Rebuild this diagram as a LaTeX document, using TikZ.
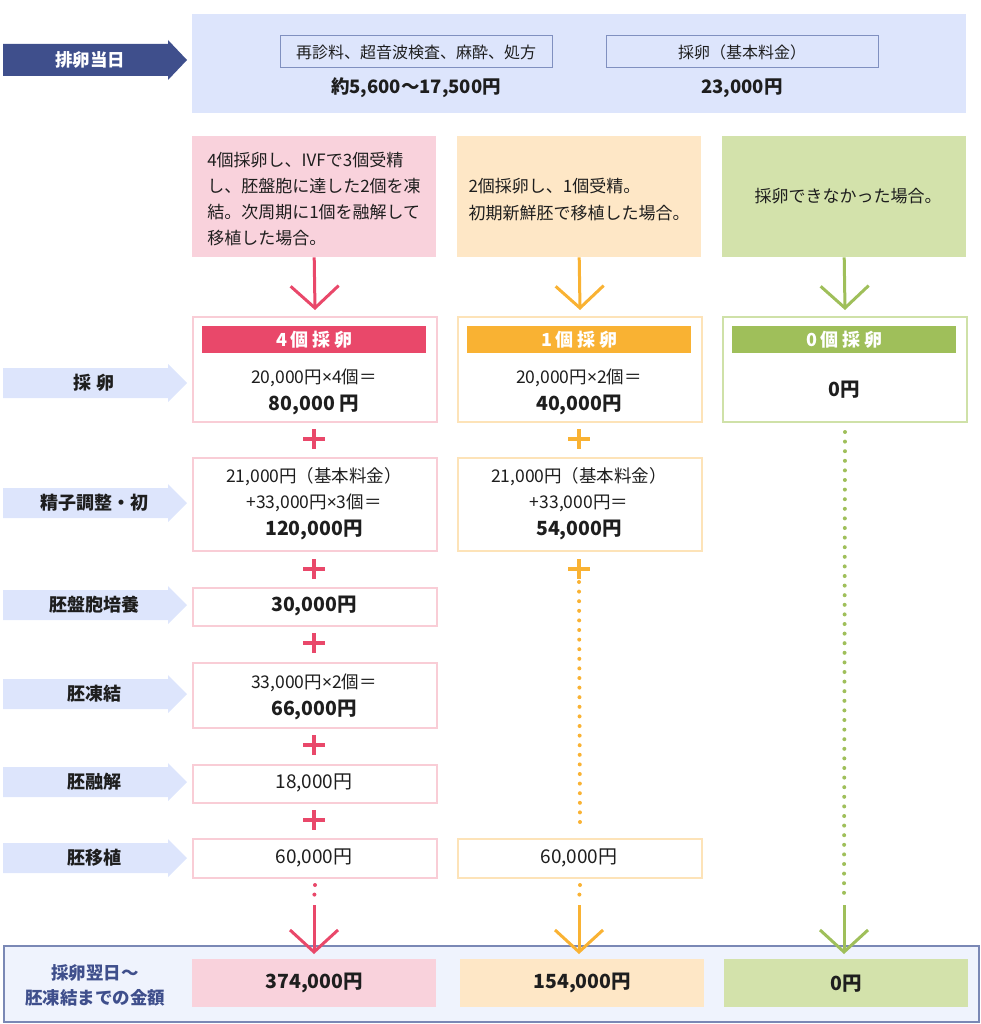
\documentclass[tikz,border=0pt]{standalone}
\usepackage{fontspec}
\setmainfont{Noto Sans CJK JP}
\newfontfamily\latf{Noto Sans}
\newcommand{\mul}{{\latf ×}}
\usetikzlibrary{arrows.meta}
\definecolor{navy}{HTML}{3F4F8C}
\definecolor{lblue}{HTML}{DDE5FC}
\definecolor{bandfill}{HTML}{EFF3FD}
\definecolor{bandline}{HTML}{7A88B5}
\definecolor{boxline}{HTML}{8090C0}
\definecolor{pinkS}{HTML}{E9486A}
\definecolor{pinkL}{HTML}{F9D2DC}
\definecolor{pinkB}{HTML}{F9CDD6}
\definecolor{oraS}{HTML}{F9B233}
\definecolor{oraL}{HTML}{FEE7C6}
\definecolor{oraB}{HTML}{FDE3B8}
\definecolor{grnS}{HTML}{9FBF5A}
\definecolor{grnL}{HTML}{D3E2AB}
\definecolor{grnB}{HTML}{CFE1A8}
\definecolor{ink}{HTML}{1E1E1E}
\newcommand{\sidearrow}[4]{%
  \fill[#4] (3,#2-15) -- (168,#2-15) -- (168,#2-19) -- (187,#2) -- (168,#2+19) -- (168,#2+15) -- (3,#2+15) -- cycle;
  \node[lbl] (#1) at (94,#2) {#3};}
\begin{document}
\begin{tikzpicture}[x=1pt,y=-1pt,
  txt/.style={font=\fontsize{17.5}{20}\selectfont, text=ink, inner sep=0},
  mtxt/.style={font=\fontsize{19}{22}\selectfont, text=ink, inner sep=0},
  btxt/.style={font=\fontsize{19.5}{22}\selectfont\bfseries, text=ink, inner sep=0},
  lbl/.style={font=\fontsize{18}{20}\selectfont\bfseries, text=ink, inner sep=0},
  panel/.style={draw=#1, line width=2pt, fill=white, anchor=north west, inner sep=0},
  bar/.style={fill=#1, anchor=north west, inner sep=0, minimum width=224, minimum height=27,
     font=\fontsize{18}{20}\selectfont\bfseries\addfontfeature{LetterSpace=20}, text=white},
  desc/.style={fill=#1, anchor=north west, inner sep=0, minimum width=244, minimum height=121},
  plussign/.style={minimum width=22, minimum height=20, inner sep=0,
     path picture={\draw[#1, line width=3.5pt] (path picture bounding box.north) -- (path picture bounding box.south)
       (path picture bounding box.west) -- (path picture bounding box.east);}},
  dotline/.style={line width=4pt, line cap=round, dash pattern=on 0pt off 9.6pt},
  vhead/.style={line width=3pt, -{Straight Barb[length=22pt, width=48pt, line width=3pt]}},
]
\useasboundingbox (0,0) rectangle (981,1024);

% ---------- top band ----------
\fill[navy] (3,44) -- (168,44) -- (168,40) -- (187,60) -- (168,80) -- (168,76) -- (3,76) -- cycle;
\node[font=\fontsize{17.5}{20}\selectfont\bfseries, text=white, inner sep=0] (day) at (90,60) {排卵当日};
\node[fill=lblue, anchor=north west, minimum width=774, minimum height=99, inner sep=0] (band) at (192,14) {};
\node[draw=boxline, line width=1pt, minimum width=272, minimum height=32, inner sep=0,
  font=\fontsize{16}{18}\selectfont, text=ink] (b1) at (416,52) {再診料、超音波検査、麻酔、処方};
\node[draw=boxline, line width=1pt, minimum width=272, minimum height=32, inner sep=0,
  font=\fontsize{16}{18}\selectfont, text=ink] (b2) at (742,52) {採卵（基本料金）};
\node[btxt, font=\fontsize{18.5}{22}\selectfont\bfseries] (b1v) at (416,88) {約5,600〜17,500円};
\node[btxt, font=\fontsize{18.5}{22}\selectfont\bfseries] (b2v) at (742,88) {23,000円};

% ---------- scenario boxes ----------
\node[desc=pinkL] (d1) at (192,136) {};
\node[desc=oraL] (d2) at (457,136) {};
\node[desc=grnL] (d3) at (722,136) {};
\node[txt, align=left, font=\fontsize{17}{26}\selectfont] (d1t) at (314,199) {4個採卵し、IVFで3個受精\\し、胚盤胞に達した2個を凍\\結。次周期に1個を融解して\\移植した場合。};
\node[txt, align=left, font=\fontsize{17}{27}\selectfont] (d2t) at (579,200) {2個採卵し、1個受精。\\初期新鮮胚で移植した場合。};
\node[txt, font=\fontsize{17}{20}\selectfont] (d3t) at (848,196) {採卵できなかった場合。};

% ---------- left labels ----------
\sidearrow{l1}{383}{採 卵}{lblue}
\sidearrow{l2}{503}{精子調整・初}{lblue}
\sidearrow{l3}{605}{胚盤胞培養}{lblue}
\sidearrow{l4}{694}{胚凍結}{lblue}
\sidearrow{l5}{782}{胚融解}{lblue}
\sidearrow{l6}{858}{胚移植}{lblue}

% ---------- column 1 ----------
\node[panel=pinkB, minimum width=244, minimum height=105] (p1) at (192,316) {};
\node[bar=pinkS] (p1h) at (202,326) {4個採卵};
\node[txt] (p1a) at (314,378) {20,000円\mul4個＝};
\node[btxt] (p1b) at (314,405) {80,000 円};
\node[plussign=pinkS] (q1) at (314,439) {};
\node[panel=pinkB, minimum width=244, minimum height=93] (p2) at (192,457) {};
\node[txt] (p2a) at (314,477) {21,000円（基本料金）};
\node[txt] (p2b) at (314,503) {+33,000円\mul3個＝};
\node[btxt] (p2c) at (314,530) {120,000円};
\node[plussign=pinkS] (q2) at (314,569) {};
\node[panel=pinkB, minimum width=244, minimum height=38] (p3) at (192,587) {};
\node[btxt] (p3a) at (314,606) {30,000円};
\node[plussign=pinkS] (q3) at (314,643) {};
\node[panel=pinkB, minimum width=244, minimum height=65] (p4) at (192,662) {};
\node[txt] (p4a) at (314,683) {33,000円\mul2個＝};
\node[btxt] (p4b) at (314,710) {66,000円};
\node[plussign=pinkS] (q4) at (314,745) {};
\node[panel=pinkB, minimum width=244, minimum height=38] (p5) at (192,764) {};
\node[mtxt] (p5a) at (314,783) {18,000円};
\node[plussign=pinkS] (q5) at (314,820) {};
\node[panel=pinkB, minimum width=244, minimum height=39] (p6) at (192,838) {};
\node[mtxt] (p6a) at (314,858) {60,000円};

% ---------- column 2 ----------
\node[panel=oraB, minimum width=244, minimum height=105] (o1) at (457,316) {};
\node[bar=oraS] (o1h) at (467,326) {1個採卵};
\node[txt] (o1a) at (579,378) {20,000円\mul2個＝};
\node[btxt] (o1b) at (579,405) {40,000円};
\node[plussign=oraS] (r1) at (579,439) {};
\node[panel=oraB, minimum width=244, minimum height=93] (o2) at (457,457) {};
\node[txt] (o2a) at (579,477) {21,000円（基本料金）};
\node[txt] (o2b) at (579,503) {+33,000円＝};
\node[btxt] (o2c) at (579,530) {54,000円};
\node[plussign=oraS] (r2) at (579,569) {};
\node[panel=oraB, minimum width=244, minimum height=39] (o6) at (457,838) {};
\node[mtxt] (o6a) at (579,858) {60,000円};

% ---------- column 3 ----------
\node[panel=grnB, minimum width=244, minimum height=105] (g1) at (722,316) {};
\node[bar=grnS] (g1h) at (732,326) {0個採卵};
\node[btxt] (g1a) at (844,390) {0円};

% ---------- connectors from scenario boxes ----------
\draw[vhead, pinkS] (d1.south) -- ([yshift=6pt]p1.north);
\draw[vhead, oraS] (d2.south) -- ([yshift=6pt]o1.north);
\draw[vhead, grnS] (d3.south) -- ([yshift=6pt]g1.north);

% ---------- bottom band ----------
\node[draw=bandline, line width=1.5pt, fill=bandfill, anchor=north west, minimum width=975, minimum height=76, inner sep=0] (bot) at (3,945) {};
\node[font=\fontsize{17.5}{25}\selectfont\bfseries, text=navy, align=center, inner sep=0] (botl) at (95,985) {採卵翌日〜\\胚凍結までの金額};
\node[fill=pinkL, anchor=north west, minimum width=244, minimum height=48, inner sep=0] (t1) at (192,959) {};
\node[fill=oraL, anchor=north west, minimum width=244, minimum height=48, inner sep=0] (t2) at (460,959) {};
\node[fill=grnL, anchor=north west, minimum width=244, minimum height=48, inner sep=0] (t3) at (724,959) {};
\node[btxt] (t1a) at (t1) {374,000円};
\node[btxt] (t2a) at (t2) {154,000円};
\node[btxt] (t3a) at (t3) {0円};

% ---------- dotted paths and final arrows ----------
\coordinate (c1) at (314,905);
\coordinate (c2) at (579,905);
\coordinate (c3) at (844,905);
\draw[dotline, pinkS] ([yshift=-6pt]p6.south) -- ([yshift=4pt]c1);
\draw[dotline, oraS] ([yshift=-13pt]r2.center) -- ([yshift=9pt]o6.north);
\draw[dotline, oraS] ([yshift=-6pt]o6.south) -- ([yshift=4pt]c2);
\draw[dotline, grnS] ([yshift=-9pt]g1.south) -- ([yshift=6pt]c3);
\draw[vhead, pinkS] (c1) -- ([yshift=5pt]t1.north -| c1);
\draw[vhead, oraS] (c2) -- ([yshift=5pt]t2.north -| c2);
\draw[vhead, grnS] (c3) -- ([yshift=5pt]t3.north -| c3);
\end{tikzpicture}
\end{document}
